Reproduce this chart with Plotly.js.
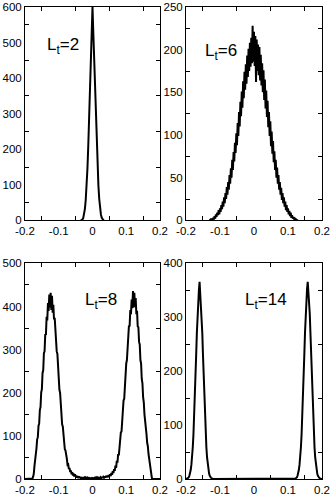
<!DOCTYPE html>
<html>
<head>
<meta charset="utf-8">
<script src="https://cdn.plot.ly/plotly-3.0.1.min.js"></script>
<style>
  body { margin: 0; background: #fff; }
  #plot { width: 332px; height: 495px; }
</style>
</head>
<body>
<div id="plot"></div>
<script>
// histograms: first bin centre, bin width, counts per bin

// L_t = 2
var lt2Start = -0.035, lt2Step = 0.0025;
var lt2Counts = [0, 0, 2, 6, 15, 32, 58, 95, 145, 210, 285, 365, 450, 530,
  600, 525, 445, 362, 288, 215, 150, 98, 60, 34, 16, 7, 2, 0, 0];

// L_t = 6
var lt6Start = -0.13, lt6Step = 0.002;
var lt6Counts = [
  0, 1, 0, 2, 0, 3, 1, 5, 2, 7,
  4, 9, 6, 12, 7, 14, 10, 18, 13, 22,
  16, 27, 20, 32, 25, 39, 30, 45, 36, 53,
  43, 61, 50, 71, 59, 80, 69, 91, 79, 102,
  88, 114, 99, 127, 110, 139, 122, 151, 132, 163,
  143, 174, 153, 183, 160, 193, 168, 201, 175, 208,
  180, 214, 184, 228, 186, 221, 181, 216, 162, 212,
  175, 206, 170, 203, 164, 194, 158, 184, 150, 176,
  141, 165, 131, 152, 121, 140, 109, 127, 99, 116,
  87, 104, 78, 93, 68, 81, 59, 71, 50, 62,
  43, 53, 36, 45, 30, 38, 24, 32, 20, 27,
  16, 22, 12, 18, 10, 14, 7, 11, 5, 9,
  3, 6, 2, 4, 1, 2, 0, 1, 0, 0,
  0];

// L_t = 8
var lt8Start = -0.2, lt8Step = 0.002;
var lt8Counts = [
  0, 0, 0, 0, 0, 0, 0, 0, 0, 0,
  1, 1, 5, 12, 30, 42, 66, 71, 92, 97,
  123, 129, 160, 167, 201, 208, 246, 252, 292, 296,
  336, 334, 376, 368, 408, 390, 428, 398, 432, 392,
  425, 386, 404, 370, 374, 338, 334, 296, 290, 252,
  245, 207, 200, 166, 159, 127, 122, 95, 91, 69,
  66, 48, 47, 33, 34, 23, 26, 16, 20, 11,
  16, 8, 13, 6, 11, 5, 8, 3, 7, 2,
  6, 2, 5, 1, 4, 1, 4, 1, 3, 0,
  3, 1, 3, 0, 2, 0, 2, 1, 2, 0,
  2, 1, 2, 0, 3, 1, 3, 0, 3, 1,
  4, 1, 4, 2, 5, 2, 5, 3, 6, 3,
  7, 4, 8, 4, 9, 6, 11, 7, 14, 10,
  18, 14, 23, 19, 31, 26, 42, 38, 58, 55,
  80, 82, 108, 110, 142, 146, 182, 186, 224, 228,
  268, 276, 314, 318, 356, 354, 392, 382, 416, 396,
  436, 398, 432, 400, 420, 382, 390, 354, 352, 318,
  312, 276, 268, 232, 222, 190, 178, 150, 138, 114,
  104, 84, 76, 58, 46, 26, 15, 5, 2, 0,
  0, 0, 0, 0, 0, 0, 0, 0, 0, 0,
  0];

// L_t = 14
var lt14Start = -0.2, lt14Step = 0.002;
var lt14Counts = [
  0, 0, 1, 2, 3, 6, 10, 17, 27, 40,
  59, 83, 113, 149, 188, 230, 271, 307, 337, 350,
  366, 342, 340, 307, 271, 230, 188, 149, 113, 83,
  59, 40, 27, 17, 10, 6, 3, 2, 1, 0,
  0, 0, 0, 0, 0, 0, 0, 0, 0, 0,
  0, 0, 0, 0, 0, 0, 0, 0, 0, 0,
  0, 0, 0, 0, 0, 0, 0, 0, 0, 0,
  0, 0, 0, 0, 0, 0, 0, 0, 0, 0,
  0, 0, 0, 0, 0, 0, 0, 0, 0, 0,
  0, 0, 0, 0, 0, 0, 0, 0, 0, 0,
  0, 0, 0, 0, 0, 0, 0, 0, 0, 0,
  0, 0, 0, 0, 0, 0, 0, 0, 0, 0,
  0, 0, 0, 0, 0, 0, 0, 0, 0, 0,
  0, 0, 0, 0, 0, 0, 0, 0, 0, 0,
  0, 0, 0, 0, 0, 0, 0, 0, 0, 0,
  0, 0, 0, 0, 0, 0, 0, 0, 0, 0,
  0, 1, 2, 3, 6, 10, 17, 27, 40, 59,
  83, 113, 149, 188, 230, 271, 307, 337, 352, 366,
  345, 338, 307, 271, 230, 188, 149, 113, 83, 59,
  40, 27, 17, 10, 6, 3, 2, 1, 0, 0,
  0];

var xTickVals = [-0.2, -0.1, 0, 0.1, 0.2];
var xTickText = ["-0.2", "-0.1", "0", "0.1", "0.2"];
var yTops = [600, 250, 500, 400];
var ySteps = [100, 50, 100, 100];
var panelLt = ["2", "6", "8", "14"];

var font = "Liberation Sans, Arial, Helvetica, sans-serif";

function hist(start, step, counts, n) {
  return {
    x0: start, dx: step, y: counts,
    xaxis: "x" + n, yaxis: "y" + n,
    mode: "lines",
    line: {color: "black", width: 2},
    hoverinfo: "none",
    showlegend: false
  };
}

function xAxis(domain, n) {
  return {
    domain: domain, anchor: "y" + n,
    range: [-0.2, 0.2],
    tickmode: "array", tickvals: xTickVals, ticktext: xTickText,
    ticks: "inside", ticklen: 0,
    minor: {ticks: "inside", ticklen: 4, tick0: 0.05, dtick: 0.1, tickcolor: "black"},
    showline: true, linecolor: "black", linewidth: 1, mirror: "ticks",
    showgrid: false, zeroline: false,
    tickfont: {family: font, size: 11.5, color: "black"}
  };
}

function yAxis(domain, n, yTop, step) {
  return {
    domain: domain, anchor: "x" + n,
    range: [0, yTop], tick0: 0, dtick: step,
    ticks: "inside", ticklen: 0,
    minor: {ticks: "inside", ticklen: 4, tick0: step / 2, dtick: step, tickcolor: "black"},
    showline: true, linecolor: "black", linewidth: 1, mirror: "ticks",
    showgrid: false, zeroline: false,
    tickfont: {family: font, size: 11.5, color: "black"}
  };
}

var data = [
  hist(lt2Start, lt2Step, lt2Counts, ""),
  hist(lt6Start, lt6Step, lt6Counts, "2"),
  hist(lt8Start, lt8Step, lt8Counts, "3"),
  hist(lt14Start, lt14Step, lt14Counts, "4")
];

var leftCol = [0, 0.4545], rightCol = [0.542, 1];
var topRow = [0.548, 1], bottomRow = [0, 0.4567];

var labelX = [-0.141, -0.149, -0.027, -0.031];
var labelY = [490, 197, 412, 330];
var axisNames = ["", "2", "3", "4"];

var annotations = panelLt.map(function (lt, i) {
  return {
    text: "L<sub>t</sub>=" + lt,
    xref: "x" + axisNames[i], yref: "y" + axisNames[i],
    x: labelX[i], y: labelY[i],
    xanchor: "left", yanchor: "middle",
    showarrow: false,
    font: {family: font, size: 17, color: "black"}
  };
});

var layout = {
  width: 332, height: 495,
  margin: {l: 25, r: 10, t: 7, b: 16},
  paper_bgcolor: "white", plot_bgcolor: "white",
  xaxis: xAxis(leftCol, ""), yaxis: yAxis(topRow, "", yTops[0], ySteps[0]),
  xaxis2: xAxis(rightCol, "2"), yaxis2: yAxis(topRow, "2", yTops[1], ySteps[1]),
  xaxis3: xAxis(leftCol, "3"), yaxis3: yAxis(bottomRow, "3", yTops[2], ySteps[2]),
  xaxis4: xAxis(rightCol, "4"), yaxis4: yAxis(bottomRow, "4", yTops[3], ySteps[3]),
  annotations: annotations
};

Plotly.newPlot("plot", data, layout, {staticPlot: true});
</script>
</body>
</html>
